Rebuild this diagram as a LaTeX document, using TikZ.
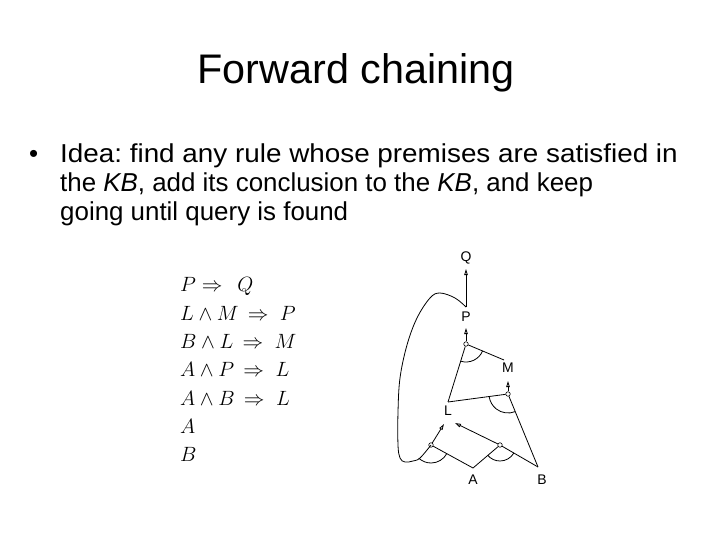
\documentclass[tikz,border=0pt]{standalone}
\usepackage{fontspec}
\setmainfont{Liberation Sans}
\usetikzlibrary{arrows.meta}
\frenchspacing
\begin{document}
\begin{tikzpicture}[x=1bp,y=-1bp,
  lbl/.style={font=\fontsize{14}{16}\selectfont, inner sep=0pt},
  junc/.style={circle,draw,inner sep=0pt,minimum size=4.5bp,line width=0.6bp},
  edge/.style={line width=0.8bp},
  arr/.style={edge,-{Triangle[open,length=6bp,width=3.5bp]}},
  andarc/.style={line width=0.8bp},
  rulerow/.style={anchor=base west,inner sep=0pt,font=\fontsize{20.5}{24}\selectfont},
  bodyline/.style={anchor=base west,inner sep=0pt,font=\fontsize{26}{30}\selectfont}]
\useasboundingbox (0,0) rectangle (720,540);

% title and bullet text
\node[anchor=base,inner sep=0pt,font=\fontsize{41.5}{50}\selectfont] (title) at (356,84) {Forward chaining};
\node[bodyline] (bullet) at (29,163) {•};
\node[bodyline] (line1) at (60,163) {\scalebox{1.075}[1]{Idea: find any rule whose premises are satisfied in}};
\node[bodyline] (line2) at (60,192) {the \textit{KB}, add its conclusion to the \textit{KB}, and keep};
\node[bodyline] (line3) at (60,221) {going until query is found};

% rules
\node[rulerow] (r1) at (180,291.7) {$P\Rightarrow\;\,Q$};
\node[rulerow] (r2) at (180,320) {$L\wedge M\,\Rightarrow\;P$};
\node[rulerow] (r3) at (180,348.3) {$B\wedge L\,\Rightarrow\;M$};
\node[rulerow] (r4) at (180,376.7) {$A\wedge P\,\Rightarrow\;L$};
\node[rulerow] (r5) at (180,405) {$A\wedge B\,\Rightarrow\;L$};
\node[rulerow] (r6) at (180,433.3) {$A$};
\node[rulerow] (r7) at (180,461.7) {$B$};

% graph labels
\node[lbl] (Q) at (466,258) {Q};
\node[lbl] (P) at (466,317) {P};
\node[lbl] (M) at (508,368) {M};
\node[lbl] (L) at (448,411) {L};
\node[lbl] (A) at (473,480) {A};
\node[lbl] (B) at (542,480) {B};

% junctions
\node[junc] (cP) at (466,344) {};
\node[junc] (cM) at (508,394) {};
\node[junc] (cL1) at (431,445) {};
\node[junc] (cL2) at (500,445) {};

% attachment points
\coordinate (Qbot) at (466,269);
\coordinate (Ptop) at (466,307);
\coordinate (Pbot) at (466,328);
\coordinate (Mbot) at (508,381);
\coordinate (Mtl) at (504,360);
\coordinate (Ltop) at (448,402);
\coordinate (Lin1) at (444,424);
\coordinate (Lin2) at (455,423);
\coordinate (Atop) at (473,468);
\coordinate (Btop) at (538,467);

% arrows into conclusions
\draw[arr] (Ptop) -- (Qbot);
\draw[arr] (cP) -- (Pbot);
\draw[arr] (cM) -- (Mbot);
\draw[arr] (cL1) -- (Lin1);
\draw[arr] (cL2) -- (Lin2);

% premise edges
\draw[edge] (cP) -- (Ltop);
\draw[edge] (cP) -- (Mtl);
\draw[edge] (cM) -- (Ltop);
\draw[edge] (cM) -- (Btop);
\draw[edge] (cL1) -- (Atop);
\draw[edge] (cL2) -- (Atop);
\draw[edge] (cL2) -- (Btop);
\draw[edge] plot[smooth,tension=0.6] coordinates {(Ptop) (455,298) (440,293) (430,298) (417,318) (407,345) (400,378) (398,412) (398,445) (400,458) (405,462) (413,461) (420,458) (cL1)};

% AND arcs
\draw[andarc] ([shift={(22:18)}]cP.center) arc[start angle=22,end angle=107,radius=18];
\draw[andarc] ([shift={(68:19)}]cM.center) arc[start angle=68,end angle=172,radius=19];
\draw[andarc] ([shift={(29:18)}]cL1.center) arc[start angle=29,end angle=133,radius=18];
\draw[andarc] ([shift={(30:16)}]cL2.center) arc[start angle=30,end angle=140,radius=16];
\end{tikzpicture}
\end{document}
